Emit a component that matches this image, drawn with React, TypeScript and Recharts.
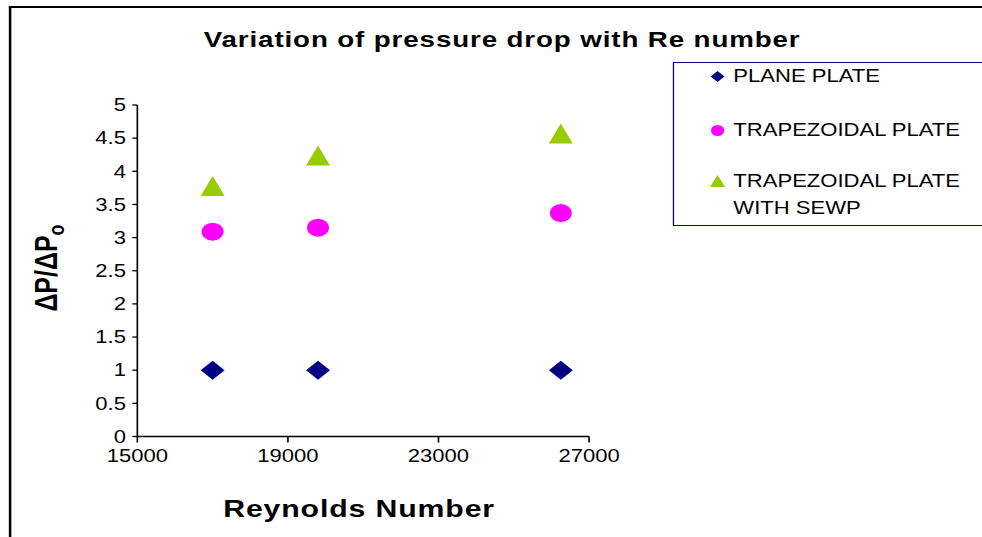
import React from 'react';
import { ScatterChart, Scatter, XAxis, YAxis, Label } from 'recharts';

// Reynolds numbers shared by all three plate configurations
const reynolds = [17000, 19800, 26250];
// Pressure drop ratio ΔP/ΔPo for each configuration
const planePlate = [1, 1, 1];
const trapezoidalPlate = [3.09, 3.15, 3.37];
const trapezoidalSewp = [3.78, 4.24, 4.57];

const xTicks = [15000, 19000, 23000, 27000];
const yTicks = [0, 0.5, 1, 1.5, 2, 2.5, 3, 3.5, 4, 4.5, 5];

const NAVY = '#000080';
const MAGENTA = '#FF00FF';
const LIME = '#99CC00';
const FONT = '"Liberation Sans", Arial, Helvetica, sans-serif';

// chart is laid out narrow and stretched sideways to the page width
const STRETCH = 1.26;
const W = 780;
const H = 537;
const PLOT_LEFT = 109;
const PLOT_RIGHT = 467.5;
const PLOT_TOP = 105;
const PLOT_BOTTOM = 436.5;
const Y_AXIS_W = 60;
const X_AXIS_H = 40;

const toPoints = (ys: number[]) => reynolds.map((re, i) => ({ re, dp: ys[i] }));

const Diamond = ({ cx, cy, r = 9.5, fill }: any) => (
  <polygon points={`${cx},${cy - r} ${cx + r},${cy} ${cx},${cy + r} ${cx - r},${cy}`} fill={fill} />
);
const Dot = ({ cx, cy, rx = 8.7, ry = 9, fill }: any) => <ellipse cx={cx} cy={cy} rx={rx} ry={ry} fill={fill} />;
const Triangle = ({ cx, cy, w = 9.5, h = 10, fill }: any) => (
  <polygon points={`${cx},${cy - h} ${cx + w},${cy + h} ${cx - w},${cy + h}`} fill={fill} />
);

const legendRows = [
  { label: 'PLANE PLATE', color: NAVY, marker: 'diamond', y: 77 },
  { label: 'TRAPEZOIDAL PLATE', color: MAGENTA, marker: 'dot', y: 131 },
  { label: 'TRAPEZOIDAL PLATE', color: LIME, marker: 'triangle', y: 181.5 },
  { label: 'WITH SEWP', color: null, marker: null, y: 209 },
];

const LEGEND_LEFT = 534;
const LEGEND_TOP = 62;

const LegendBox = () => (
  <div
    style={{
      position: 'absolute',
      left: LEGEND_LEFT,
      top: LEGEND_TOP,
      width: 300,
      height: 162,
      border: `1.5px solid ${NAVY}`,
      background: '#fff',
    }}
  >
    <svg width={300} height={162} style={{ position: 'absolute', left: 0, top: 0 }}>
      {legendRows.map((row, i) => {
        const cy = row.y - LEGEND_TOP - 1.5;
        const cx = 34.5;
        if (row.marker === 'diamond') return <Diamond key={i} cx={cx} cy={cy} r={5.5} fill={row.color} />;
        if (row.marker === 'dot') return <Dot key={i} cx={cx} cy={cy} rx={5.2} ry={5.5} fill={row.color} />;
        if (row.marker === 'triangle') return <Triangle key={i} cx={cx} cy={cy} w={6} h={6} fill={row.color} />;
        return null;
      })}
    </svg>
    {legendRows.map((row, i) => (
      <div
        key={i}
        style={{
          position: 'absolute',
          left: 47,
          top: row.y - LEGEND_TOP - 1.5 - 8.5,
          fontSize: 17.5,
          lineHeight: '17.5px',
          whiteSpace: 'nowrap',
          color: '#000',
        }}
      >
        {row.label}
      </div>
    ))}
  </div>
);

const YTitle = () => (
  <text
    x={45}
    y={268}
    transform="rotate(-90, 45, 268)"
    textAnchor="middle"
    fontFamily={FONT}
    fontWeight="bold"
    fontSize={25}
    fill="#000"
  >
    ΔP/ΔP
    <tspan fontSize={18} dy={6}>
      o
    </tspan>
  </text>
);

const XTitle = () => (
  <text
    x={285}
    y={517}
    textAnchor="middle"
    fontFamily={FONT}
    fontWeight="bold"
    fontSize={24}
    letterSpacing={0.7}
    fill="#000"
  >
    Reynolds Number
  </text>
);

export default function App() {
  const tickStyle = { fontFamily: FONT, fontSize: 17.5, fill: '#000' };
  return (
    <div
      style={{
        position: 'absolute',
        left: 0,
        top: 0,
        width: 982,
        height: H,
        overflow: 'hidden',
        background: '#fff',
        fontFamily: FONT,
      }}
    >
      <div
        style={{
          position: 'absolute',
          left: 0,
          top: 0,
          width: W,
          height: H,
          transform: `scaleX(${STRETCH})`,
          transformOrigin: '0 0',
        }}
      >
        {/* chart frame: only the left and top edges fall inside the page */}
        <div
          style={{
            position: 'absolute',
            left: 7,
            top: 6,
            width: 900,
            height: 700,
            borderLeft: '2px solid #000',
            borderTop: '2px solid #000',
          }}
        />
        <div
          style={{
            position: 'absolute',
            left: 0,
            width: 797,
            top: 29,
            textAlign: 'center',
            fontSize: 22,
            lineHeight: '22px',
            fontWeight: 'bold',
            letterSpacing: 0.7,
            color: '#000',
            whiteSpace: 'nowrap',
          }}
        >
          Variation of pressure drop with Re number
        </div>
        <ScatterChart
          width={W}
          height={H}
          style={{ position: 'absolute', left: 0, top: 0 }}
          margin={{
            top: PLOT_TOP,
            right: W - PLOT_RIGHT,
            bottom: H - PLOT_BOTTOM - X_AXIS_H,
            left: PLOT_LEFT - Y_AXIS_W,
          }}
        >
          <XAxis
            type="number"
            dataKey="re"
            domain={[15000, 27000]}
            ticks={xTicks}
            height={X_AXIS_H}
            tick={tickStyle}
            tickSize={6}
            tickMargin={7.5}
            stroke="#000"
            strokeWidth={1.3}
            tickLine={{ stroke: '#000', strokeWidth: 1.3 }}
            axisLine={{ stroke: '#000', strokeWidth: 1.3 }}
          >
            <Label content={() => <XTitle />} />
          </XAxis>
          <YAxis
            type="number"
            dataKey="dp"
            domain={[0, 5]}
            ticks={yTicks}
            width={Y_AXIS_W}
            tick={tickStyle}
            tickSize={4}
            tickMargin={5}
            interval={0}
            stroke="#000"
            tickLine={{ stroke: '#000', strokeWidth: 1.3 }}
            axisLine={{ stroke: '#000', strokeWidth: 1.3 }}
          >
            <Label content={() => <YTitle />} />
          </YAxis>
          <Scatter
            name="PLANE PLATE"
            data={toPoints(planePlate)}
            fill={NAVY}
            shape={(p: any) => <Diamond cx={p.cx} cy={p.cy} fill={NAVY} />}
            isAnimationActive={false}
          />
          <Scatter
            name="TRAPEZOIDAL PLATE"
            data={toPoints(trapezoidalPlate)}
            fill={MAGENTA}
            shape={(p: any) => <Dot cx={p.cx} cy={p.cy} fill={MAGENTA} />}
            isAnimationActive={false}
          />
          <Scatter
            name="TRAPEZOIDAL PLATE WITH SEWP"
            data={toPoints(trapezoidalSewp)}
            fill={LIME}
            shape={(p: any) => <Triangle cx={p.cx} cy={p.cy} fill={LIME} />}
            isAnimationActive={false}
          />
        </ScatterChart>
        <LegendBox />
      </div>
    </div>
  );
}
